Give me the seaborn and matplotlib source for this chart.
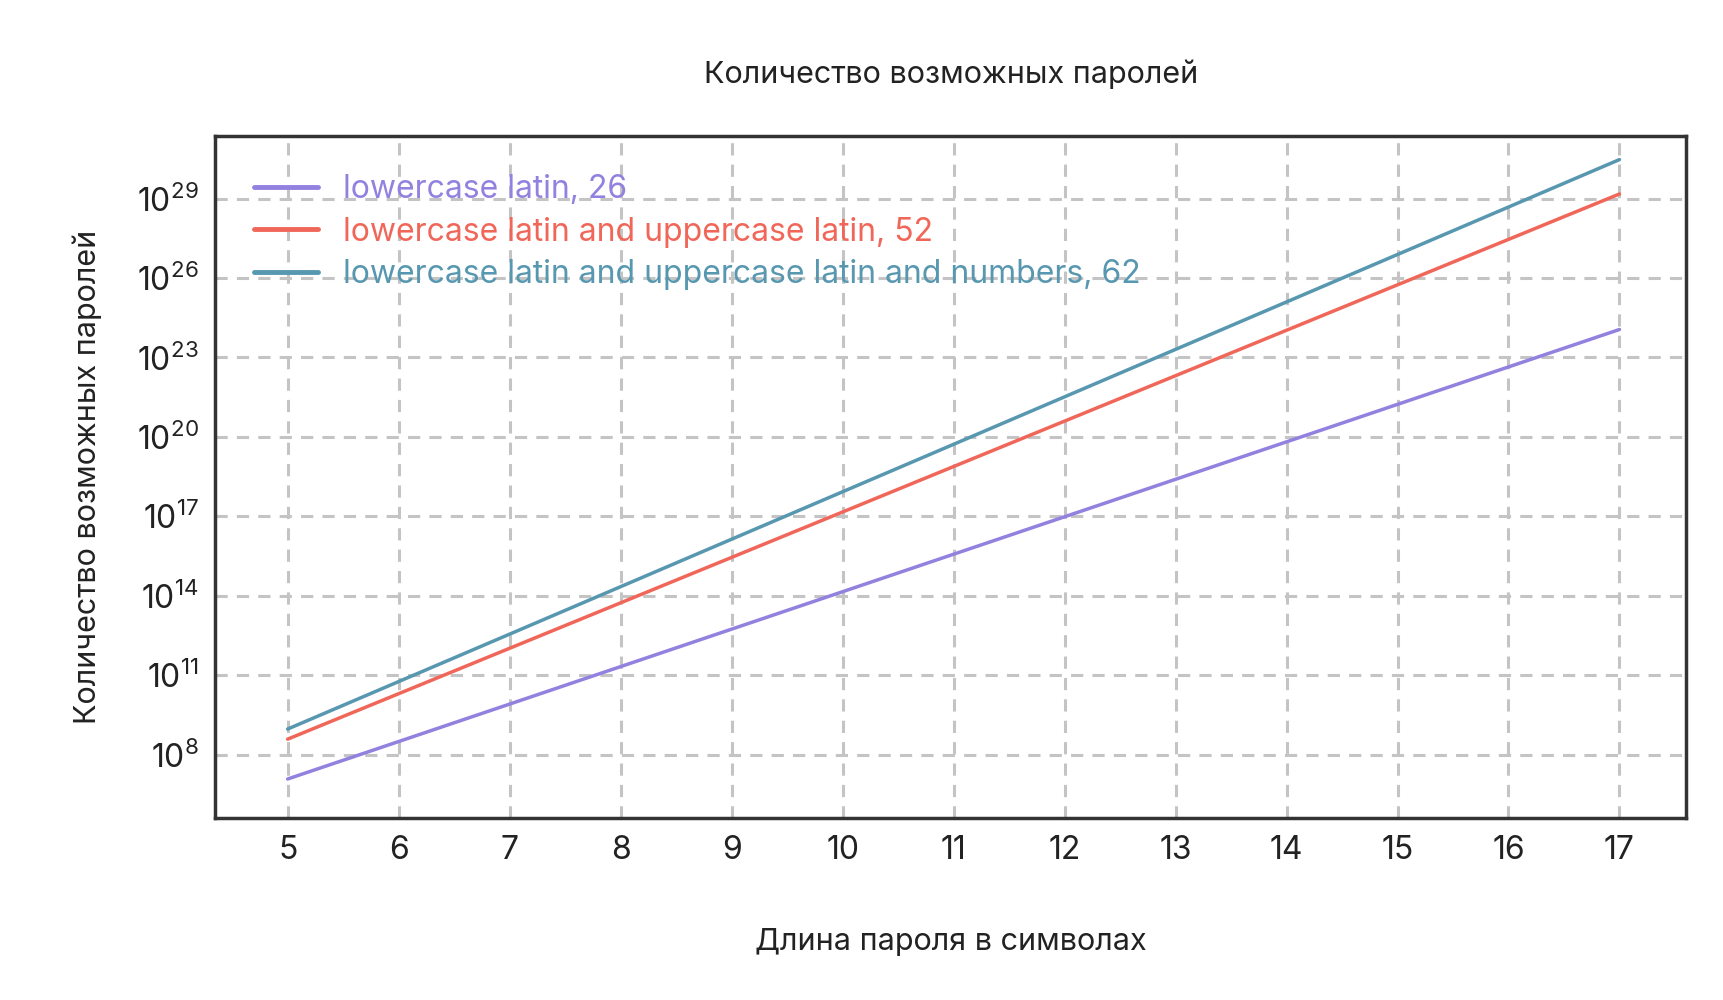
import matplotlib
matplotlib.use('Agg')
import matplotlib.pyplot as plt
import seaborn as sns
import pandas as pd

lengths = [5, 6, 7, 8, 9, 10, 11, 12, 13, 14, 15, 16, 17]
lower26 = [1.188e7, 3.089e8, 8.03e9, 2.088e11, 5.43e12, 1.41e14, 3.67e15,
           9.54e16, 2.48e18, 6.45e19, 1.68e21, 4.36e22, 1.13e24]
upper52 = [3.80e8, 1.977e10, 1.028e12, 5.35e13, 2.78e15, 1.446e17, 7.52e18,
           3.91e20, 2.03e22, 1.057e24, 5.50e25, 2.86e27, 1.487e29]
alnum62 = [9.16e8, 5.68e10, 3.52e12, 2.18e14, 1.354e16, 8.39e17, 5.20e19,
           3.23e21, 2.00e23, 1.24e25, 7.69e26, 4.77e28, 2.96e30]
names = ['lowercase latin, 26', 'lowercase latin and uppercase latin, 52',
         'lowercase latin and uppercase latin and numbers, 62']
colors = ['#9381e0', '#f0675a', '#5797b0']

df = pd.concat([pd.DataFrame({'len': lengths, 'n': v, 'set': nm})
                for v, nm in zip([lower26, upper52, alnum62], names)])

sns.set_style('white')
plt.rcParams['font.family'] = ['Inter', 'DejaVu Sans']

fig = plt.figure(figsize=(17.24, 10), dpi=100)
ax = fig.add_axes([0.125, 0.182, 0.853, 0.682])
sns.lineplot(data=df, x='len', y='n', hue='set', palette=colors, linewidth=2.5, ax=ax)
ax.set_yscale('log')
ax.set_xlim(4.35, 17.6)
ax.set_ylim(4e5, 2.3e31)
ax.set_xticks(lengths)
ax.set_yticks([10.0 ** k for k in range(8, 30, 3)])
ax.minorticks_off()
ax.tick_params(labelsize=23, colors='#222222', length=0, pad=12)
ax.grid(True, linestyle='--', color='#c4c4c4', linewidth=2.2, dashes=(4, 3))
for s in ax.spines.values():
    s.set_linewidth(2.5)
    s.set_color('#333333')
ax.set_xlabel('Длина пароля в символах', fontsize=22, color='#222222', labelpad=45)
ax.set_ylabel('Количество возможных паролей', fontsize=22, color='#222222', labelpad=25)
ax.set_title('Количество возможных паролей', fontsize=22, color='#222222', pad=38)
leg = ax.legend(loc='upper left', frameon=False, fontsize=23, handlelength=2,
                borderaxespad=0.8, labelspacing=0.35)
for t, c in zip(leg.get_texts(), colors):
    t.set_color(c)
for h in leg.legend_handles:
    h.set_linewidth(3.5)
fig.savefig('out.png')
